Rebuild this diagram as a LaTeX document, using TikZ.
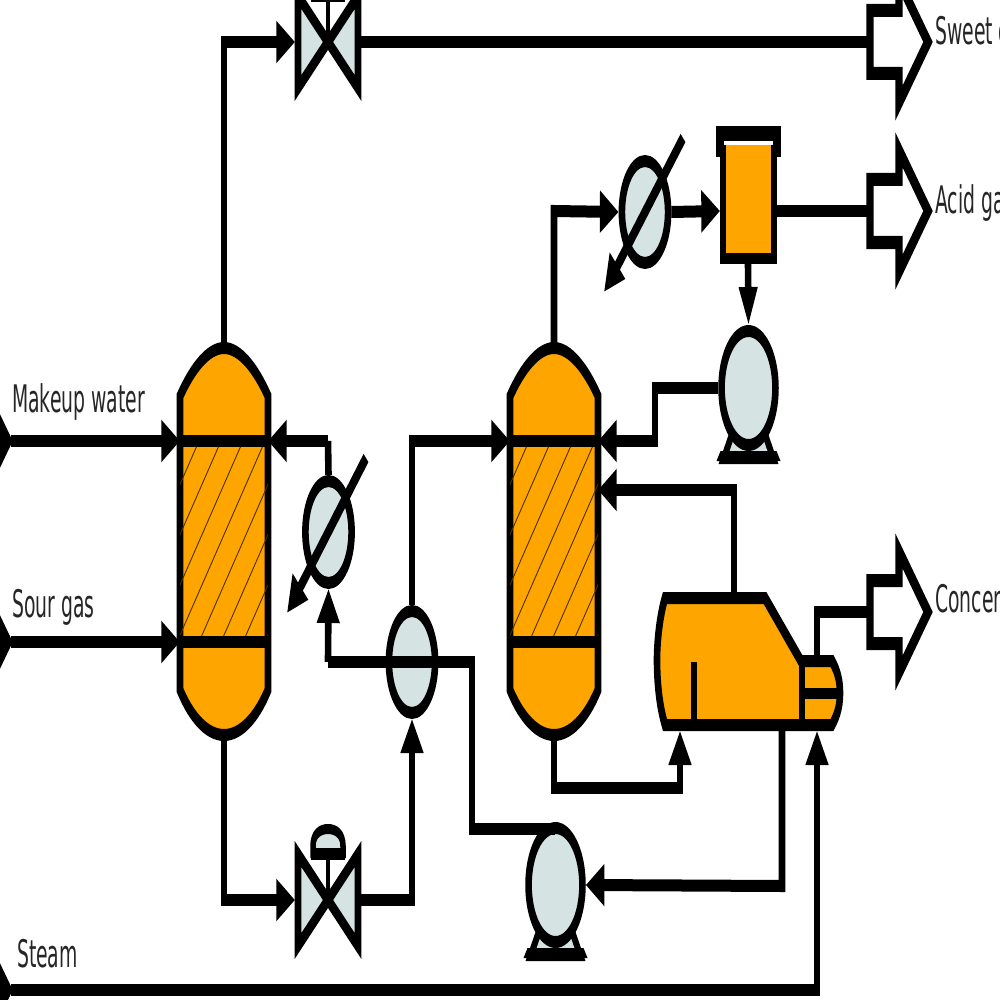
\documentclass[tikz,border=0pt]{standalone}
\usepackage{fontspec}
\setmainfont{DejaVu Sans}
\usetikzlibrary{arrows.meta,shapes.geometric}
\definecolor{vessel}{HTML}{FFA500}
\definecolor{steel}{HTML}{D5E3E3}
\tikzset{
  pipe/.style={line width=12pt,draw=black},
  flow/.style={pipe,-{Triangle[length=34pt,width=40pt]}},
  shell/.style={line width=12pt,draw=black,fill=vessel},
  band/.style={line width=12pt,draw=black},
  exch/.style={ellipse,draw=black,fill=steel,line width=12pt,inner sep=0pt,minimum width=84pt,minimum height=102pt},
  pumpbody/.style={ellipse,draw=black,fill=steel,line width=12pt,inner sep=0pt,minimum width=98pt,minimum height=114pt},
  tag/.style={anchor=base west,inner sep=0pt,xscale=0.9,font=\fontsize{38}{38}\selectfont,text=black!85},
  boundshape/.style={line width=13pt,draw=black,miter limit=20},
  column/.pic={
    \path[shell] (-44,-198) .. controls (-32,-225) and (-16,-246) .. (0,-246)
      .. controls (16,-246) and (32,-225) .. (44,-198) -- (44,96)
      .. controls (32,125) and (16,141) .. (0,141)
      .. controls (-16,141) and (-32,125) .. (-44,96) -- cycle;
    \begin{scope}
      \clip (-44,-153) rectangle (44,48);
      \foreach \k in {-5,...,7} {
        \draw[line width=1.4pt,draw=black!70!vessel] ({\k*22-3},-153) -- ++(-88,201);
      }
    \end{scope}
    \draw[band] (-44,-153) -- (44,-153);
    \draw[band] (-44,48) -- (44,48);
    \coordinate (-top) at (0,-246);
    \coordinate (-bot) at (0,141);
  },
  bowtie/.pic={
    \draw[line width=12pt,fill=steel,draw=black,miter limit=20] (-30,-46) -- (30,46) -- (30,-46) -- (-30,46) -- cycle;
    \draw[line width=7pt] (0,0) -- (0,-46);
    \draw[line width=10pt,fill=steel] (-15,-47) -- (-15,-54) .. controls (-15,-66) and (-8,-71) .. (0,-71)
       .. controls (8,-71) and (15,-66) .. (15,-54) -- (15,-47) -- cycle;
    \fill[black] (-17,-52) rectangle (17,-40);
    \coordinate (-in) at (-33,0);
    \coordinate (-out) at (33,0);
  },
  pumpbase/.pic={
    \path[draw=black,fill=steel,line width=10pt] (-14,30) -- (14,30) -- (25,62) -- (-25,62) -- cycle;
    \fill[black] (-32,64) -- (32,64) -- (28,54) -- (-28,54) -- cycle;
  },
  outlet/.pic={
    \path[boundshape,fill=white] (0,-31.5) -- (29,-31.5) -- (29,-61) -- (58,0) -- (29,61) -- (29,31.5) -- (0,31.5) -- cycle;
    \coordinate (-in) at (-3,0);
  },
  inlet/.pic={
    \path[boundshape,fill=black] (0,-31.5) -- (29,-31.5) -- (29,-61) -- (58,0) -- (29,61) -- (29,31.5) -- (0,31.5) -- cycle;
    \coordinate (-out) at (61,0);
  },
}
\begin{document}
\begin{tikzpicture}[x=1pt,y=-1pt]
\useasboundingbox (0,0) rectangle (1000,1000);
\begin{scope}[transform canvas={xscale=0.55},x=1.81818pt,y=-1pt]
  % vessels
  \pic (colA) at (224,594) {column};
  \pic (colB) at (554,594) {column};
  % valves
  \pic (vA) at (328,42) {bowtie};
  \pic (vB) at (328,900) {bowtie};
  % exchangers
  \node[exch] (hxA) at (328.5,532) {};
  \node[exch] (hxB) at (412,662) {};
  \node[exch] (hxC) at (645,212) {};
  % pumps
  \pic (bsA) at (748.5,397) {pumpbase};
  \node[pumpbody] (pA) at (748.5,388) {};
  \pic (bsB) at (555.5,894) {pumpbase};
  \node[pumpbody] (pB) at (555.5,885) {};
  % drum
  \fill[vessel] (723,145) rectangle (774,258);
  \draw[line width=11pt] (723,145) -- (723,258) -- (774,258) -- (774,145);
  \fill[black] (716,126) rectangle (781,141);
  \fill[black] (716,126) rectangle (724,157);
  \fill[black] (773,126) rectangle (781,157);
  \coordinate (drumIn) at (720,211);
  \coordinate (drumOut) at (777,211);
  \coordinate (drumBot) at (748,263);
  % separator
  \path[shell] (665,598) -- (765,598) -- (801,661) -- (832,661)
     .. controls (838,672) and (840,682) .. (840,693)
     .. controls (840,704) and (838,714) .. (832,725)
     -- (665,725) .. controls (659,705) and (657,680) .. (657,660)
     .. controls (657,640) and (660,615) .. (665,598) -- cycle;
  \draw[line width=12pt] (802,661) -- (802,725);
  \draw[line width=11pt] (802,693) -- (841,693);
  \draw[line width=10pt] (694,662) -- (694,722);
  \coordinate (sepTop) at (734,592);
  \coordinate (sepIn) at (680,731);
  \coordinate (sepSteam) at (817,731);
  \coordinate (sepBot) at (782,730);
  \coordinate (sepHead) at (817,656);
  % boundary pictograms
  \pic (outA) at (870,42) {outlet};
  \pic (outB) at (870,211) {outlet};
  \pic (outC) at (870,612) {outlet};
  \pic (inA) at (-50,441) {inlet};
  \pic (inB) at (-50,642) {inlet};
  \pic (inC) at (-50,990) {inlet};
  % junction points
  \coordinate (j1) at (224,42);
  \coordinate (j2) at (224,900);
  \coordinate (j3) at (412,900);
  \coordinate (j4) at (412,441);
  \coordinate (tA1) at (180,441);
  \coordinate (tA2) at (180,642);
  \coordinate (tA3) at (268,441);
  \coordinate (tB1) at (510,441);
  \coordinate (tB2) at (598,441);
  \coordinate (tB3) at (598,490);
  \coordinate (j5) at (328,441);
  \coordinate (j6) at (328,662);
  \coordinate (j7) at (472,662);
  \coordinate (j8) at (472,829);
  \coordinate (pBtop) at (555,829);
  \coordinate (j9) at (554,211);
  \coordinate (j10) at (655,388);
  \coordinate (j11) at (655,441);
  \coordinate (j12) at (734,490);
  \coordinate (j13) at (554,788);
  \coordinate (j14) at (680,788);
  \coordinate (j15) at (782,886);
  \coordinate (j16) at (817,612);
  \coordinate (j17) at (817,990);
  % connectors
  \draw[flow] (colA-top) -- (j1) -- (vA-in);
  \draw[pipe] (vA-out) -- (outA-in);
  \draw[flow] (inA-out) -- (tA1);
  \draw[flow] (inB-out) -- (tA2);
  \draw[flow] (j5) -- (tA3);
  \draw[pipe] (hxA.north) -- (j5);
  \draw[flow] (j6) -- (hxA.south);
  \draw[flow] (colA-bot) -- (j2) -- (vB-in);
  \draw[flow] (vB-out) -- (j3) -- (hxB.south);
  \draw[flow] (hxB.north) -- (j4) -- (tB1);
  \draw[pipe] (j6) -- (j7) -- (j8) -- (pBtop);
  \draw[flow] (colB-top) -- (j9) -- (hxC.west);
  \draw[flow] (hxC.east) -- (drumIn);
  \draw[pipe] (drumOut) -- (outB-in);
  \draw[pipe,-{Triangle[length=38pt,width=32pt]}] (drumBot) -- (pA.north);
  \draw[flow] (pA.west) -- (j10) -- (j11) -- (tB2);
  \draw[flow] (sepTop) -- (j12) -- (tB3);
  \draw[flow] (colB-bot) -- (j13) -- (j14) -- (sepIn);
  \draw[flow] (sepBot) -- (j15) -- (pB.east);
  \draw[pipe] (sepHead) -- (j16) -- (outC-in);
  \draw[flow] (inC-out) -- (j17) -- (sepSteam);
  % cooling-water slashes
  \coordinate (slA1) at (366,458);
  \coordinate (slA2) at (287,613);
  \coordinate (slB1) at (683,138);
  \coordinate (slB2) at (604,292);
  \draw[line width=12pt,-{Triangle[length=36pt,width=36pt]}] (slA1) -- (slA2);
  \draw[line width=12pt,-{Triangle[length=36pt,width=36pt]}] (slB1) -- (slB2);
  % labels
  \node[tag] (lMake) at (12,412) {Makeup water};
  \node[tag] (lSour) at (12,617) {Sour gas};
  \node[tag] (lSteam) at (17,967) {Steam};
  \node[tag] (lSweet) at (935,45) {Sweet gas};
  \node[tag] (lAcid) at (935,214) {Acid gas};
  \node[tag] (lConc) at (935,612) {Concentrated};
\end{scope}
\end{tikzpicture}
\end{document}
